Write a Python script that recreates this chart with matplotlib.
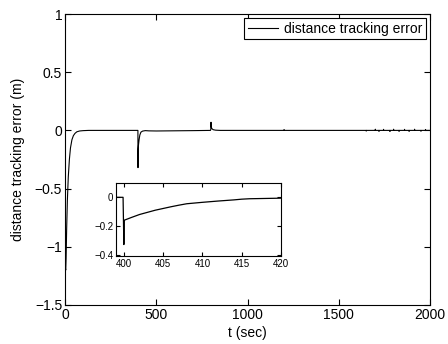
import matplotlib
matplotlib.use('Agg')
import matplotlib.pyplot as plt
import numpy as np

plt.rcParams['font.family'] = ['Liberation Sans', 'DejaVu Sans']

# main curve (t in sec, error in m)
t_main = [0, 2, 4, 6, 9, 13, 18, 24, 30, 38, 46, 55, 65, 80, 100, 130,
          398, 399.5, 400, 401, 403, 406, 410, 416, 425, 440, 460, 500,
          700, 797, 799, 800, 801, 805, 812, 825, 850, 900,
          1200, 1200.5, 1201, 1650, 1650.5, 1651, 1700, 1700.5, 1701, 1720, 1720.5, 1721,
          1745, 1745.5, 1746, 1780, 1780.5, 1781, 1800, 1800.5, 1801, 1830, 1830.5, 1831,
          1860, 1860.5, 1861, 1885, 1885.5, 1886, 1915, 1915.5, 1916, 1950, 1950.5, 1951,
          1975, 1975.5, 1976, 2000]
e_main = [-0.95, -1.18, -1.2, -1.1, -0.85, -0.6, -0.4, -0.25, -0.15, -0.08, -0.045, -0.025, -0.012, -0.005, -0.002, 0,
          0, 0, -0.32, -0.16, -0.12, -0.08, -0.04, -0.015, -0.006, -0.002, -0.004, -0.005,
          -0.002, 0, 0.01, 0.07, 0.03, 0.015, 0.006, 0.002, 0, 0,
          0, 0.006, 0, 0, -0.006, 0, 0, 0.01, 0, 0, -0.008, 0,
          0, 0.009, 0, 0, -0.009, 0, 0, 0.01, 0, 0, -0.008, 0,
          0, 0.009, 0, 0, -0.008, 0, 0, 0.01, 0, 0, -0.007, 0,
          0, 0.008, 0, 0]

# zoom around t = 400
t_zoom = [399, 399.9, 400, 400.05, 401, 402, 403, 404, 405, 406, 407, 408, 410, 412, 414, 415, 416, 418, 420]
e_zoom = [0, 0, -0.33, -0.16, -0.14, -0.12, -0.105, -0.09, -0.078, -0.066, -0.055, -0.045, -0.035, -0.026, -0.018, -0.013, -0.01, -0.008, -0.006]

fig = plt.figure(figsize=(4.48, 3.44), dpi=100)
ax = fig.add_axes([65/448, 1-305/344, 365/448, 291/344])
ax.plot(t_main, e_main, '-', color='black', linewidth=0.8, label='distance tracking error')
ax.set_xlim(0, 2000)
ax.set_ylim(-1.5, 1)
ax.set_xticks([0, 500, 1000, 1500, 2000])
ax.set_yticks([-1.5, -1, -0.5, 0, 0.5, 1])
ax.set_yticklabels(['\u22121.5', '\u22121', '\u22120.5', '0', '0.5', '1'])
ax.tick_params(direction='in', top=True, right=True, labelsize=10, length=4, pad=2)
ax.set_xlabel('t (sec)', fontsize=10, labelpad=3)
ax.set_ylabel('distance tracking error (m)', fontsize=10, labelpad=7)
leg = ax.legend(loc='upper right', fontsize=10, fancybox=False, framealpha=1,
                edgecolor='black', borderaxespad=0.3, handlelength=2.2,
                borderpad=0.25, handletextpad=0.4)
leg.get_frame().set_linewidth(0.8)

ins = fig.add_axes([116/448, 1-256/344, 165/448, 73/344])
ins.plot(t_zoom, e_zoom, '-', color='black', linewidth=0.9)
ins.set_xlim(399, 420)
ins.set_ylim(-0.41, 0.1)
ins.set_xticks([400, 405, 410, 415, 420])
ins.set_yticks([-0.4, -0.2, 0])
ins.set_yticklabels(['\u22120.4', '\u22120.2', '0'])
ins.tick_params(direction='in', top=True, right=True, labelsize=7, length=3, pad=2)

plt.savefig('out.png', dpi=100)
